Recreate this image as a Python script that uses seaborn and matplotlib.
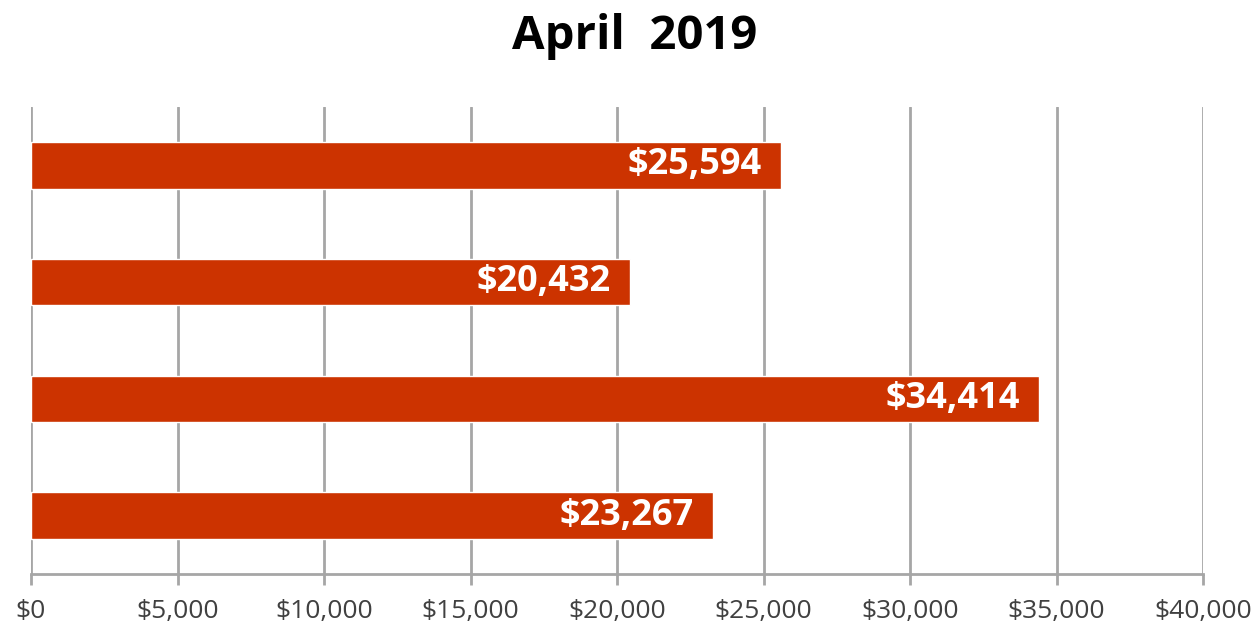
import matplotlib
matplotlib.use("Agg")
import matplotlib.pyplot as plt
import seaborn as sns
import pandas as pd
from matplotlib.ticker import FuncFormatter, MultipleLocator

categories = ["Item 1", "Item 2", "Item 3", "Item 4"]
values = [25594, 20432, 34414, 23267]
title = "April  2019"

sns.set_theme(style="white")
plt.rcParams["font.family"] = ["Open Sans", "DejaVu Sans"]

df = pd.DataFrame({"category": categories, "value": values})

fig = plt.figure(figsize=(12.57, 6.33), dpi=100)
ax = fig.add_axes([31 / 1257, 1 - 574 / 633, (1203 - 31) / 1257, (574 - 107) / 633])

sns.barplot(data=df, x="value", y="category", orient="h", color="#CC3300",
            saturation=1, width=0.40, ax=ax, zorder=3)

ax.set_xlim(0, 40000)
ax.set_ylim(3.5, -0.5)
ax.xaxis.set_major_locator(MultipleLocator(5000))
ax.xaxis.set_major_formatter(FuncFormatter(lambda v, p: f"${v:,.0f}"))
ax.grid(axis="x", color="#A6A6A6", linewidth=2, zorder=0)
ax.set_axisbelow(True)
ax.set_yticks([])
ax.set_xlabel("")
ax.set_ylabel("")
for s in ["top", "right", "left"]:
    ax.spines[s].set_visible(False)
ax.spines["bottom"].set_color("#A6A6A6")
ax.spines["bottom"].set_linewidth(2)
ax.tick_params(axis="x", bottom=True, length=8, width=2, color="#A6A6A6",
               labelsize=19, labelcolor="#404040", pad=10)

for i, v in enumerate(values):
    ax.text(v - 650, i, f"${v:,}", ha="right", va="center", color="white",
            fontsize=26, fontweight="bold", zorder=4)

fig.text(635 / 1257, 1 - 37 / 633, title, ha="center", va="center",
         fontsize=34, fontweight="bold", color="black")

fig.savefig("out.png", dpi=100)
